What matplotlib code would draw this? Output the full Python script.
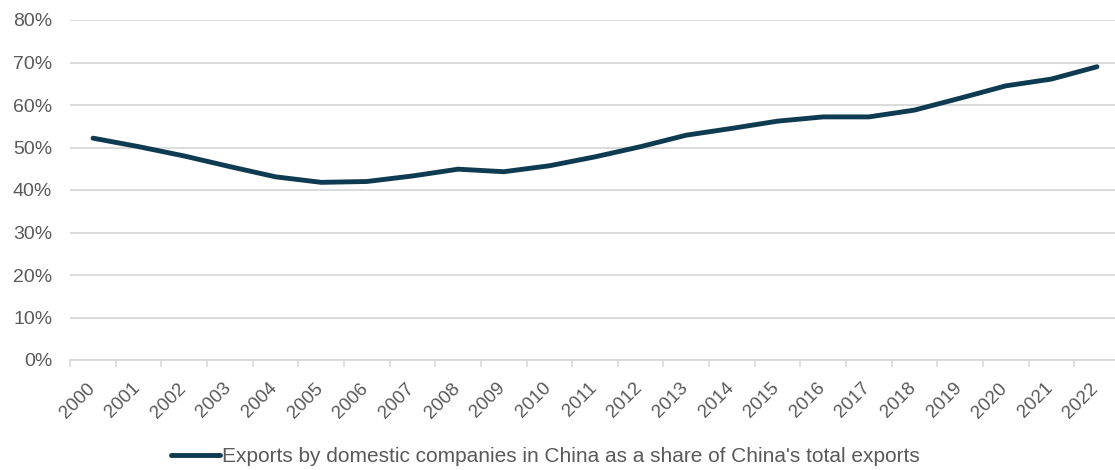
import matplotlib.pyplot as plt
from matplotlib.ticker import FixedLocator, PercentFormatter
from matplotlib.transforms import ScaledTranslation

# Share of China's exports made by domestic (non-foreign-invested) firms, %
years = [str(y) for y in range(2000, 2023)]
domestic_share = [52.2, 50.2, 48.0, 45.5, 43.1, 41.8, 42.0, 43.3, 44.9, 44.3,
                  45.7, 47.8, 50.2, 52.9, 54.5, 56.2, 57.2, 57.2, 58.8, 61.6,
                  64.5, 66.1, 69.0]
series_label = "Exports by domestic companies in China as a share of China's total exports"

line_color = "#0e3a52"
text_color = "#595959"
grid_color = "#d9d9d9"

plt.rcParams["font.family"] = ["Liberation Sans", "DejaVu Sans"]

fig = plt.figure(figsize=(11.15, 4.7), dpi=100)
ax = fig.add_axes([70.2 / 1115, 1 - 360 / 470, 1049.6 / 1115, 340 / 470])

x = range(len(years))
line, = ax.plot(x, domestic_share, color=line_color, lw=3.5,
                solid_joinstyle="round", solid_capstyle="round", label=series_label)

ax.set_xlim(-0.5, len(years) - 0.5)
ax.set_ylim(0, 80)
ax.set_yticks(range(0, 81, 10))
ax.yaxis.set_major_formatter(PercentFormatter(decimals=0))
ax.yaxis.grid(True, color=grid_color, lw=1.3)
ax.set_axisbelow(True)

# category labels sit between boundary ticks, like an Excel category axis
ax.set_xticks(list(x))
ax.set_xticklabels(years, rotation=45, ha="right", va="center", rotation_mode="anchor")
ax.xaxis.set_minor_locator(FixedLocator([i - 0.5 for i in range(len(years) + 1)]))
ax.tick_params(axis="x", which="major", length=0, pad=18.5, labelsize=13.5, labelcolor=text_color)
ax.tick_params(axis="x", which="minor", length=5, width=1.2, color=grid_color)
ax.tick_params(axis="y", length=0, pad=13, labelsize=14, labelcolor=text_color)

shift = ScaledTranslation(-1 / 100, 0, fig.dpi_scale_trans)
for lbl in ax.get_xticklabels():
    lbl.set_transform(lbl.get_transform() + shift)

for side in ["top", "right", "left"]:
    ax.spines[side].set_visible(False)
ax.spines["bottom"].set_color(grid_color)
ax.spines["bottom"].set_linewidth(1.3)

fig.legend(handles=[line], loc="center", bbox_to_anchor=(0.489, 1 - 457 / 470),
           frameon=False, fontsize=15, labelcolor=text_color,
           handlelength=2.35, handletextpad=0.1)

fig.savefig("out.png", dpi=100)
